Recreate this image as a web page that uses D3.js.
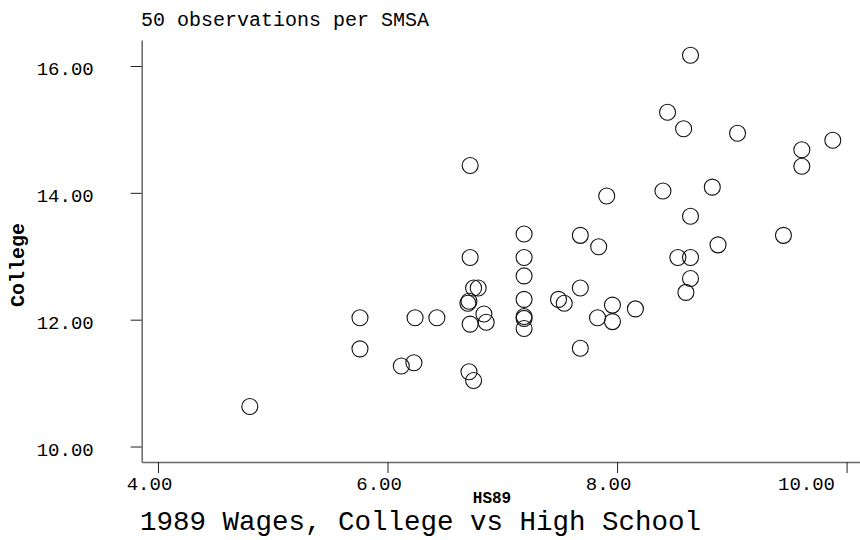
<!DOCTYPE html>
<html>
<head>
<meta charset="utf-8">
<script src="https://cdn.jsdelivr.net/npm/d3@7"></script>
<style>
  body { margin: 0; background: #fff; }
  text { font-family: "Liberation Mono", "Courier New", monospace; fill: #000; }
</style>
</head>
<body>
<script>
// values, one entry per SMSA
var hs89 = [4.80, 5.76, 5.76, 6.12, 6.23, 6.24, 6.43, 6.72, 6.72, 6.75, 6.79, 6.71, 6.70,
	6.72, 6.84, 6.86, 6.71, 6.75, 7.19, 7.19, 7.19, 7.19, 7.19, 7.19, 7.19, 7.49, 7.54,
	7.68, 7.84, 7.68, 7.68, 7.83, 7.96, 7.96, 8.16, 7.91, 8.40, 8.83, 8.64, 8.88, 8.53,
	8.64, 8.64, 8.60, 9.45, 8.64, 8.44, 8.58, 9.05, 9.88, 9.61, 9.61];
var college = [10.63, 12.03, 11.54, 11.27, 11.32, 12.03, 12.03, 14.43, 12.98, 12.50, 12.50, 12.29, 12.26,
	11.93, 12.09, 11.96, 11.18, 11.04, 13.35, 12.98, 12.69, 12.32, 12.05, 12.02, 11.86, 12.32, 12.26,
	13.33, 13.15, 12.50, 11.55, 12.03, 12.23, 11.97, 12.17, 13.95, 14.03, 14.09, 13.63, 13.18, 12.98,
	12.98, 12.65, 12.43, 13.33, 16.17, 15.27, 15.01, 14.94, 14.83, 14.68, 14.42];
var xTicks = [4, 6, 8, 10];
var yTicks = [10, 12, 14, 16];

var width = 860, height = 540;

var svg = d3.select("body").append("svg")
	.attr("width", width)
	.attr("height", height);

// scales span the whole axis lines, a bit past the first and last tick
var xScale = d3.scaleLinear().domain([3.858, 10.117]).range([141.7, 860]);
var yScale = d3.scaleLinear().domain([9.756, 16.41]).range([462, 40]);

var fmt = d3.format(".2f");

// y axis
var yAxis = d3.axisLeft(yScale)
	.tickValues(yTicks)
	.tickSizeInner(11)
	.tickSizeOuter(0)
	.tickPadding(37)
	.tickFormat(fmt);

var gy = svg.append("g")
	.attr("transform", "translate(" + xScale.range()[0] + ",0)")
	.call(yAxis);
gy.select(".domain").attr("stroke", "#666").attr("stroke-width", 1.5);
gy.selectAll(".tick line").attr("stroke", "#222");
gy.selectAll(".tick text")
	.attr("font-family", "Liberation Mono, monospace")
	.attr("font-size", 19)
	.attr("dy", "0.66em")
	.attr("y", -4);

// x axis
var xAxis = d3.axisBottom(xScale)
	.tickValues(xTicks)
	.tickSizeInner(11)
	.tickSizeOuter(0)
	.tickFormat(fmt);

var gx = svg.append("g")
	.attr("transform", "translate(0," + yScale.range()[0] + ")")
	.call(xAxis);
gx.select(".domain").attr("stroke", "#666").attr("stroke-width", 1.5);
gx.selectAll(".tick line").attr("stroke", "#222");
gx.selectAll(".tick text")
	.attr("font-family", "Liberation Mono, monospace")
	.attr("font-size", 19)
	.attr("y", 28)
	.attr("dy", 0)
	.attr("dx", function(d) {
		// keep the last label inside the frame
		var cx = xScale(d) - 9;
		return (cx + 29 > 835 ? 835 - 29 - xScale(d) : -9);
	});

// points
svg.append("g")
	.selectAll("circle")
	.data(hs89)
	.enter().append("circle")
	.attr("cx", function(d) { return xScale(d); })
	.attr("cy", function(d, i) { return yScale(college[i]); })
	.attr("r", 8)
	.style("fill", "none")
	.style("stroke", "#111")
	.style("stroke-width", 1.1);

// texts
svg.append("text")
	.attr("x", 141)
	.attr("y", 26)
	.attr("font-size", 20)
	.text("50 observations per SMSA");

svg.append("text")
	.attr("transform", "translate(24,265) rotate(-90)")
	.attr("text-anchor", "middle")
	.attr("font-size", 20)
	.attr("font-weight", "bold")
	.text("College");

svg.append("text")
	.attr("x", 492)
	.attr("y", 503)
	.attr("text-anchor", "middle")
	.attr("font-size", 16)
	.attr("font-weight", "bold")
	.text("HS89");

svg.append("text")
	.attr("x", 140)
	.attr("y", 530)
	.attr("font-size", 27.5)
	.text("1989 Wages, College vs High School");
</script>
</body>
</html>
